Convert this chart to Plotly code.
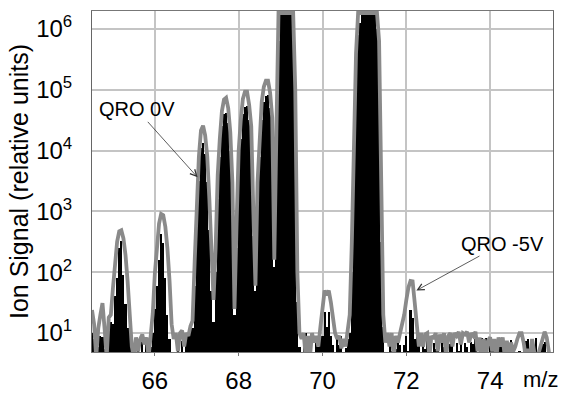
import numpy as np
import plotly.graph_objects as go

# m/z sampling (0.05 step, 64.50 ... 75.50)
mz = np.round(np.arange(64.5, 75.5001, 0.05), 2)

SAT = 1.83e6  # detector saturation level as drawn

# grey envelope trace (QRO 0V)
grey = [
    24, 14, 4, 12, 20, 31, 12, 4, 18, 20,                      # 64.50
    55, 160, 320, 470, 490, 360, 190, 71, 19, 6,                # 65.00
    4, 8.5, 5, 8, 9.5, 6.5, 8.5, 4, 9, 21,                      # 65.50
    96, 300, 630, 910, 870, 560, 245, 73, 14, 8,                # 66.00
    10, 5, 10, 11, 6, 10, 9, 13, 16, 150,                       # 66.50
    1600, 7900, 21400, 25700, 17800, 8000, 1600, 200, 35, 250,  # 67.00
    4000, 15800, 44700, 69000, 74000, 50100, 20000, 3000, 25, 630,   # 67.50
    10000, 31600, 70800, 93000, 93000, 56200, 25000, 1000, 60, 3000,  # 68.00
    15800, 63000, 112000, 141000, 141000, 89000, 35000, 160, 20000, SAT,  # 68.50
    SAT, SAT, SAT, SAT, SAT, SAT, SAT, 100000, 100, 10,         # 69.00
    8, 10, 4, 9, 4, 10, 7, 9, 6, 12.6,                          # 69.50
    28, 50, 42, 50, 32, 16, 10, 8, 9, 5.6,                      # 70.00
    8, 6, 10, 20, 316, 10000, 398000, SAT, SAT, SAT,            # 70.50
    SAT, SAT, SAT, SAT, SAT, SAT, SAT, 631000, 1000, 20,        # 71.00
    7, 10, 6, 10, 4, 9, 7, 10, 12.6, 20,                        # 71.50
    35, 56, 72, 71, 32, 11, 6, 10, 6, 9.5,                      # 72.00
    10, 4, 9, 8, 10, 5, 9.5, 7, 10, 4,                          # 72.50
    9, 10, 6, 10, 9, 10.5, 6.5, 10, 9.5, 10.5,                  # 73.00
    7, 10, 9, 10.5, 5, 8.5, 4, 8, 4, 7.5,                       # 73.50
    8.5, 5, 8, 4, 8.5, 6, 8.5, 4, 7.5, 4,                       # 74.00
    7, 5, 6, 8, 10, 10, 7, 4, 5.5, 4,                           # 74.50
    8, 5, 4, 4.5, 6, 9, 10.5, 8.5, 5, 4,                        # 75.00
    4,                                                          # 75.50
]

# black filled spectrum (QRO -5V)
black = [
    10, 8, 3, 6, 9, 8.6, 5.5, 3, 15, 15,                        # 64.50
    14, 40, 80, 250, 330, 90, 30, 12, 10, 3,                    # 65.00
    3, 3, 6.4, 3, 7.7, 3, 8, 3, 6, 10,                          # 65.50
    25, 60, 160, 430, 300, 80, 20, 8, 3, 3,                     # 66.00
    3, 7.5, 3, 7.5, 3, 9, 10, 12, 12, 60,                       # 66.50
    630, 3160, 11200, 13500, 8900, 3000, 500, 50, 15, 100,      # 67.00
    1600, 7900, 25000, 40000, 41700, 28000, 10000, 1000, 20, 250,  # 67.50
    5000, 15800, 40000, 52500, 55000, 31600, 12000, 400, 50, 1260, # 68.00
    7900, 31600, 63000, 79400, 83000, 50100, 18000, 120, 10000, 631000,  # 68.50
    SAT, SAT, SAT, SAT, SAT, SAT, 1000000, 31600, 32, 6,        # 69.00
    3, 6, 10, 3, 7.7, 3, 3, 8, 6, 9,                            # 69.50
    9, 22, 12.6, 22, 9, 6.3, 4, 8, 6.3, 9,                      # 70.00
    4, 5.6, 8, 10, 100, 3160, 158000, 794000, 1260000, SAT,     # 70.50
    SAT, SAT, SAT, SAT, SAT, SAT, 1000000, 100000, 316, 12.6,   # 71.00
    4, 3, 7.2, 5, 3, 5.5, 7.5, 6.3, 4, 6.3,                     # 71.50
    9, 5, 24, 18, 8, 12.6, 6.3, 3, 7.7, 5.5,                    # 72.00
    7.7, 6.3, 3, 7, 5.5, 7.5, 3, 7, 6, 7.2,                     # 72.50
    3, 6.5, 7.5, 3, 6.8, 5, 7.7, 3, 7, 6,                       # 73.00
    3, 7.2, 6.5, 8, 3, 7.5, 8.3, 6, 8.3, 3,                     # 73.50
    7.5, 6.5, 8, 3, 7.7, 6, 8, 3, 7, 3,                         # 74.00
    7.7, 3, 3, 3, 5, 3, 3, 7.5, 8, 3,                           # 74.50
    7.5, 6, 8.3, 3, 3, 6.5, 7.1, 3, 3, 3,                       # 75.00
    3,                                                          # 75.50
]

x_ticks = [66, 68, 70, 72, 74]
y_tickvals = [1e1, 1e2, 1e3, 1e4, 1e5, 1e6]
y_ticktext = ["10<sup>1</sup>", "10<sup>2</sup>", "10<sup>3</sup>",
              "10<sup>4</sup>", "10<sup>5</sup>", "10<sup>6</sup>"]

FONT = "Liberation Sans, Arial, Helvetica, sans-serif"
GRID = "#c4c4c4"
GREY = "#8a8a8a"

fig = go.Figure()
fig.add_trace(go.Bar(x=mz, y=black, width=0.05, marker=dict(color="black", line=dict(width=0)),
                     name="QRO -5V", showlegend=False))
fig.add_trace(go.Scatter(x=mz, y=grey, mode="lines", line=dict(color=GREY, width=3.8),
                         name="QRO 0V", showlegend=False))

fig.update_layout(
    width=564, height=393,
    margin=dict(l=92, r=11, t=11, b=41, autoexpand=False),
    paper_bgcolor="white", plot_bgcolor="white",
    bargap=0, barmode="overlay",
    font=dict(family=FONT, color="black"),
)
fig.update_xaxes(
    range=[64.5, 75.5], tickvals=x_ticks, ticks="outside", ticklen=3, tickcolor="#777",
    tickfont=dict(size=24), showgrid=True, gridcolor=GRID, gridwidth=2,
    showline=True, linecolor="#777", linewidth=1, mirror=True, zeroline=False,
    ticklabelstandoff=4, automargin=False,
)
fig.update_yaxes(
    type="log", range=[0.689, 6.295], tickvals=y_tickvals, ticktext=y_ticktext,
    tickfont=dict(size=24), showgrid=True, gridcolor=GRID, gridwidth=2,
    showline=True, linecolor="#666", linewidth=1, mirror=True, ticks="",
    ticklabelstandoff=14, automargin=False,
    title=dict(text="Ion Signal (relative units)", font=dict(size=25), standoff=0),
)

fig.add_annotation(x=67.02, y=3.56, ax=-61, ay=-68, text="QRO 0V", showarrow=True,
                   arrowhead=5, arrowsize=1.6, arrowwidth=0.8, arrowcolor="#333",
                   font=dict(size=20))
fig.add_annotation(x=72.24, y=1.70, ax=86, ay=-47, text="QRO -5V", showarrow=True,
                   arrowhead=5, arrowsize=1.6, arrowwidth=0.8, arrowcolor="#333",
                   font=dict(size=20))
fig.add_annotation(xref="paper", yref="paper", x=0.972, xanchor="center", y=0,
                   yanchor="middle", yshift=-27, text="m/z", showarrow=False,
                   font=dict(size=22))

assert len(grey) == len(mz) == len(black)
fig.write_html("out.html", config={"displayModeBar": False},
               post_script="document.body.style.margin='0';")
